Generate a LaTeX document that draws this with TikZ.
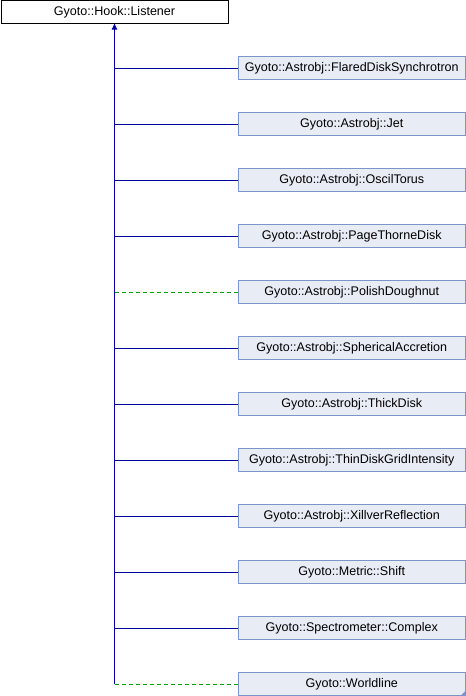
\documentclass[tikz,border=0pt]{standalone}
\usepackage{fontspec}
\setmainfont{Liberation Sans}
\usetikzlibrary{arrows.meta}
\definecolor{clsfill}{RGB}{232,236,245}
\definecolor{clsline}{RGB}{124,148,200}
\definecolor{inhblue}{RGB}{0,0,160}
\definecolor{inhgreen}{RGB}{0,160,0}
\tikzset{
    base/.style={draw=black, fill=white, rectangle, minimum height=17pt, minimum width=170.5pt, inner sep=0pt, font=\fontsize{9.4pt}{11pt}\selectfont},
    cls/.style={draw=clsline, fill=clsfill, rectangle, minimum height=17pt, minimum width=170.5pt, inner sep=0pt, font=\fontsize{9.4pt}{11pt}\selectfont},
    pub/.style={draw=inhblue, line width=0.75pt},
    prot/.style={draw=inhgreen, dashed, dash pattern=on 3pt off 2.25pt, line width=0.75pt}
}

\begin{document}
\begin{tikzpicture}[x=0.75pt, y=-0.75pt]

    \useasboundingbox (0,0) rectangle (466,696);
    \node[base] (listener) at (114.5,12) {Gyoto::Hook::Listener};
    \node[cls] (flared) at (351.75,68) {Gyoto::Astrobj::FlaredDiskSynchrotron};
    \node[cls] (jet) at (351.75,124) {Gyoto::Astrobj::Jet};
    \node[cls] (oscil) at (351.75,180) {Gyoto::Astrobj::OscilTorus};
    \node[cls] (pagethorne) at (351.75,236) {Gyoto::Astrobj::PageThorneDisk};
    \node[cls] (polish) at (351.75,292) {Gyoto::Astrobj::PolishDoughnut};
    \node[cls] (spherical) at (351.75,348) {Gyoto::Astrobj::SphericalAccretion};
    \node[cls] (thick) at (351.75,404) {Gyoto::Astrobj::ThickDisk};
    \node[cls] (thingrid) at (351.75,460) {Gyoto::Astrobj::ThinDiskGridIntensity};
    \node[cls] (xillver) at (351.75,516) {Gyoto::Astrobj::XillverReflection};
    \node[cls] (shift) at (351.75,572) {Gyoto::Metric::Shift};
    \node[cls] (complex) at (351.75,628) {Gyoto::Spectrometer::Complex};
    \node[cls] (worldline) at (351.75,684) {Gyoto::Worldline};
    \fill[clsline] (worldline.south east) -- ++(0,-5) -- ++(-5,5) -- cycle;

    % trunk and branches
    \coordinate (trunk) at (114.5,684);
    \draw[pub, -{Triangle[length=4.5pt, width=4pt]}] (trunk) -- (listener.south);
    \draw[pub] (trunk |- flared) -- (flared.west);
    \draw[pub] (trunk |- jet) -- (jet.west);
    \draw[pub] (trunk |- oscil) -- (oscil.west);
    \draw[pub] (trunk |- pagethorne) -- (pagethorne.west);
    \draw[prot] (trunk |- polish) -- (polish.west);
    \draw[pub] (trunk |- spherical) -- (spherical.west);
    \draw[pub] (trunk |- thick) -- (thick.west);
    \draw[pub] (trunk |- thingrid) -- (thingrid.west);
    \draw[pub] (trunk |- xillver) -- (xillver.west);
    \draw[pub] (trunk |- shift) -- (shift.west);
    \draw[pub] (trunk |- complex) -- (complex.west);
    \draw[prot] (trunk |- worldline) -- (worldline.west);
\end{tikzpicture}
\end{document}
